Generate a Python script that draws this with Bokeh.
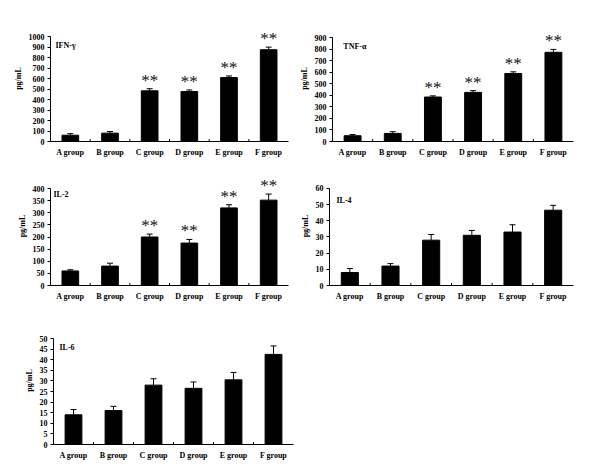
from bokeh.plotting import figure
from bokeh.models import (Range1d, FactorRange, FixedTicker, Label, LabelSet, Whisker,
                          TeeHead, ColumnDataSource)
from bokeh.layouts import column, row
from bokeh.embed import file_html
from bokeh.resources import INLINE

groups = ["A group", "B group", "C group", "D group", "E group", "F group"]

ifn_mean = [60, 80, 485, 478, 612, 878]
ifn_err = [15, 15, 20, 15, 15, 25]
ifn_stars = ["", "", "**", "**", "**", "**"]
ifn_ticks = [0, 100, 200, 300, 400, 500, 600, 700, 800, 900, 1000]

tnf_mean = [50, 70, 385, 425, 588, 772]
tnf_err = [10, 15, 10, 15, 15, 25]
tnf_stars = ["", "", "**", "**", "**", "**"]
tnf_ticks = [0, 100, 200, 300, 400, 500, 600, 700, 800, 900]

il2_mean = [60, 80, 200, 175, 320, 352]
il2_err = [5, 12, 12, 15, 13, 25]
il2_stars = ["", "", "**", "**", "**", "**"]
il2_ticks = [0, 50, 100, 150, 200, 250, 300, 350, 400]

il4_mean = [8, 12, 28, 31, 33, 46.5]
il4_err = [2.5, 1.5, 3.5, 3, 4.5, 3]
il4_stars = ["", "", "", "", "", ""]
il4_ticks = [0, 10, 20, 30, 40, 50, 60]

il6_mean = [14, 16, 28, 26.5, 30.5, 42.5]
il6_err = [2.5, 2, 3, 3, 3.5, 4]
il6_stars = ["", "", "", "", "", ""]
il6_ticks = [0, 5, 10, 15, 20, 25, 30, 35, 40, 45, 50]

FONT = "Liberation Serif"
PAD = 22  # extra frame room above the axis top for the significance marks


def panel(name, means, errs, stars, yticks, width, height, left, right, top, bottom, tdx, tdy):
    fw = width - left - right
    fh = height - top - bottom          # height of the drawn axis (0..ymax)
    ymax = yticks[-1]
    yend = ymax * (1 + PAD / fh)
    p = figure(x_range=FactorRange(*groups), y_range=Range1d(0, yend),
               width=width, height=height,
               min_border_left=left, min_border_right=right,
               min_border_top=top - PAD, min_border_bottom=bottom,
               output_backend="svg", toolbar_location=None)
    p.outline_line_color = None
    p.grid.visible = False
    p.background_fill_color = "white"
    p.border_fill_color = "white"

    upper = [m + e for m, e in zip(means, errs)]
    src = ColumnDataSource(dict(x=groups, top=means, upper=upper, star=stars))
    p.vbar(x="x", top="top", width=0.42, source=src, fill_color="black", line_color="black")
    p.add_layout(Whisker(source=src, base="x", lower="top", upper="upper",
                         lower_head=None,
                         upper_head=TeeHead(size=6, line_color="black", line_width=1),
                         line_color="black", line_width=1))
    p.add_layout(LabelSet(x="x", y="upper", text="star", source=src, text_align="center",
                          text_baseline="bottom", text_font=FONT, text_font_size="17px",
                          text_color="#111111", y_offset=-1))

    # small inward ticks at category boundaries
    nb = list(range(1, len(groups)))
    tick_h = ymax * 2.5 / fh
    p.segment(x0=nb, y0=[0] * len(nb), x1=nb, y1=[tick_h] * len(nb),
              line_color="black", line_width=1)

    unit = fw / len(groups)
    p.add_layout(Label(x=tdx / unit, y=ymax - tdy * ymax / fh, text=name,
                       text_baseline="top", text_align="left",
                       text_font=FONT, text_font_style="bold", text_font_size="8px",
                       text_color="black"))

    ya = p.yaxis[0]
    ya.ticker = FixedTicker(ticks=yticks)
    ya.bounds = (0, ymax)
    ya.major_tick_out = 3
    ya.major_tick_in = 0
    ya.minor_tick_line_color = None
    ya.major_label_standoff = 3
    ya.major_label_text_font = FONT
    ya.major_label_text_font_style = "bold"
    ya.major_label_text_font_size = "8px"
    ya.major_label_text_color = "black"
    ya.axis_label = "pg/mL"
    ya.axis_label_text_font = FONT
    ya.axis_label_text_font_style = "bold"
    ya.axis_label_text_font_size = "8px"
    ya.axis_label_text_color = "black"
    ya.axis_label_standoff = 3
    ya.axis_line_color = "black"
    ya.major_tick_line_color = "black"

    xa = p.xaxis[0]
    xa.major_tick_line_color = None
    xa.major_tick_out = 0
    xa.major_tick_in = 0
    xa.major_label_standoff = 6
    xa.major_label_text_font = FONT
    xa.major_label_text_font_style = "bold"
    xa.major_label_text_font_size = "8px"
    xa.major_label_text_color = "black"
    xa.axis_line_color = "black"
    return p


f1 = panel("IFN-γ", ifn_mean, ifn_err, ifn_stars, ifn_ticks, 296, 165, 50, 8, 35, 23, 5, 4)
f2 = panel("TNF-α", tnf_mean, tnf_err, tnf_stars, tnf_ticks, 296, 165, 32, 19, 37, 24, 11, 4)
f3 = panel("IL-2", il2_mean, il2_err, il2_stars, il2_ticks, 296, 140, 50, 8, 23, 20, 3, 1)
f4 = panel("IL-4", il4_mean, il4_err, il4_stars, il4_ticks, 296, 140, 33, 19, 22, 20, 7, 8)
f5 = panel("IL-6", il6_mean, il6_err, il6_stars, il6_ticks, 303, 157, 53, 10, 33, 18, 6, 4)

layout = column(row(f1, f2), row(f3, f4), row(f5))
open("out.html", "w").write(file_html(layout, INLINE))
